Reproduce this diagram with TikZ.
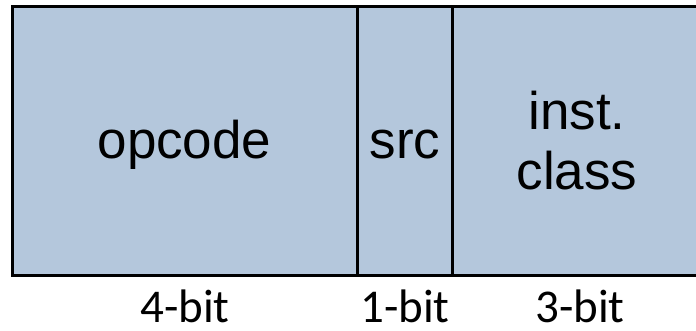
\documentclass[tikz,border=0pt]{standalone}
\usepackage{fontspec}
\setmainfont{Liberation Sans}
\newfontfamily\widthfont{Carlito}
\usetikzlibrary{positioning}
\definecolor{fieldblue}{HTML}{B4C7DC}
\tikzset{
  field/.style={font=\fontsize{53}{60}\selectfont, align=center, inner sep=0pt},
  width/.style={font=\widthfont\fontsize{47}{56}\selectfont, inner sep=0pt, anchor=base},
  border/.style={line width=3pt, line join=miter}
}

\begin{document}
\begin{tikzpicture}[x=1pt,y=-1pt]
    %initialisation
    \useasboundingbox (0,0) rectangle (696,331);
    %definitions
    \coordinate (tl) at (12.5,6.5);
    \coordinate (tr) at (700,6.5);
    \coordinate (bl) at (12.5,275);
    \coordinate (br) at (700,275);
    \coordinate (d1top) at (357.5,6.5);
    \coordinate (d1bot) at (357.5,275);
    \coordinate (d2top) at (452,6.5);
    \coordinate (d2bot) at (452,275);
    %drawing
    \fill[fieldblue] (tl) rectangle (br);
    \draw[border] (tr) -- (tl) -- (bl) -- (br);
    \draw[border] (d1top) -- (d1bot);
    \draw[border] (d2top) -- (d2bot);
    %label
    \node[field, anchor=base] (opcode) at (184.5,159) {opcode};
    \node[field, anchor=base] (src) at (405,159) {src};
    \node[field] (class) at (577,141) {inst.\\class};
    \node[width] (w4) at (185,322) {4-bit};
    \node[width] (w1) at (405,322) {1-bit};
    \node[width] (w3) at (580,322) {3-bit};
\end{tikzpicture}
\end{document}
